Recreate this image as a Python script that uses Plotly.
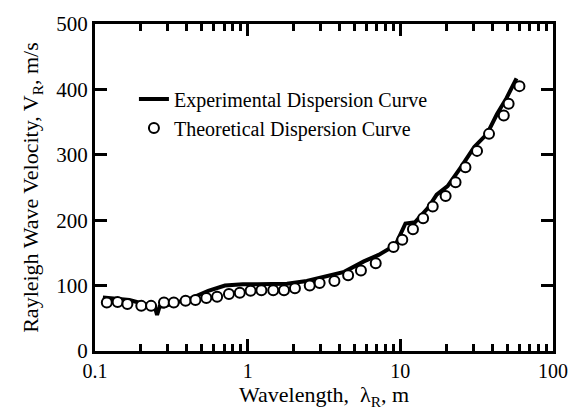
import plotly.graph_objects as go

# Experimental dispersion curve (wavelength m, velocity m/s)
exp_wavelength = [0.1126, 0.1346, 0.168, 0.210, 0.233, 0.245, 0.255, 0.265, 0.283, 0.314,
                  0.422, 0.552, 0.710, 0.929, 1.161, 1.45, 1.81, 2.44, 3.28, 4.29,
                  5.77, 7.21, 9.29, 10.0, 10.8, 12.5, 15.2, 17.3, 20.4, 25.1,
                  30.5, 37.0, 42.9, 49.7, 57.7]
exp_velocity = [82, 80, 78, 72, 70, 70, 55, 68, 68, 72,
                80, 92, 100, 102, 102, 102, 103, 107, 114, 121,
                137, 147, 162, 177, 195, 197, 219, 239, 252, 282,
                312, 332, 362, 387, 417]

# Theoretical dispersion curve
theo_wavelength = [0.1195, 0.1407, 0.163, 0.201, 0.233, 0.283, 0.328, 0.392, 0.455, 0.536,
                   0.631, 0.754, 0.888, 1.045, 1.23, 1.47, 1.73, 2.04, 2.55, 2.96,
                   3.70, 4.55, 5.52, 6.90, 9.02, 10.3, 12.1, 14.1, 16.3, 19.8,
                   23.0, 26.7, 31.8, 38.1, 47.6, 51.2, 60.3]
theo_velocity = [74, 75, 72, 69, 69, 74, 74, 77, 78, 81,
                 83, 87, 89, 92, 93, 93, 93, 96, 100, 104,
                 107, 116, 123, 134, 159, 170, 186, 203, 221, 237,
                 258, 281, 306, 332, 360, 378, 405]

FONT = "Liberation Serif, Times New Roman, serif"

fig = go.Figure()
fig.add_trace(go.Scatter(
    x=exp_wavelength, y=exp_velocity, mode="lines",
    name="Experimental Dispersion Curve",
    line=dict(color="black", width=4),
))
fig.add_trace(go.Scatter(
    x=theo_wavelength, y=theo_velocity, mode="markers",
    name="Theoretical Dispersion Curve",
    marker=dict(symbol="circle", size=10, color="white",
                line=dict(color="black", width=2)),
))

fig.update_layout(
    width=580, height=414,
    margin=dict(l=95, r=20, t=18, b=63),
    paper_bgcolor="white", plot_bgcolor="white",
    font=dict(family=FONT, size=20, color="black"),
    showlegend=True,
    legend=dict(x=0.085, y=0.83, xanchor="left", yanchor="top",
                bgcolor="rgba(0,0,0,0)", borderwidth=0,
                font=dict(family=FONT, size=20, color="black"),
                tracegroupgap=0, itemwidth=30),
    annotations=[dict(
        text="Wavelength,  λ<sub>R</sub>, m", xref="paper", yref="paper",
        x=0.5, y=-0.137, xanchor="center", yanchor="middle", showarrow=False,
        font=dict(family=FONT, size=22, color="black"),
    )],
)
fig.update_xaxes(
    type="log", range=[-1, 2], dtick=1,
    ticks="inside", ticklen=12, tickwidth=3, tickcolor="black",
    showline=True, linecolor="black", linewidth=3, mirror="allticks",
    showgrid=False, zeroline=False,
    minor=dict(ticks="inside", ticklen=7, tickwidth=2.5, tickcolor="black", showgrid=False),
    tickfont=dict(family=FONT, size=20),
)
fig.update_yaxes(
    range=[0, 500], dtick=100, tick0=0,
    ticks="inside", ticklen=12, tickwidth=3, tickcolor="black",
    showline=True, linecolor="black", linewidth=3, mirror="allticks",
    showgrid=False, zeroline=False,
    title=dict(text="Rayleigh Wave Velocity, V<sub>R</sub>, m/s", standoff=12,
               font=dict(family=FONT, size=22)),
    tickfont=dict(family=FONT, size=21),
)

fig.write_html("out.html")
